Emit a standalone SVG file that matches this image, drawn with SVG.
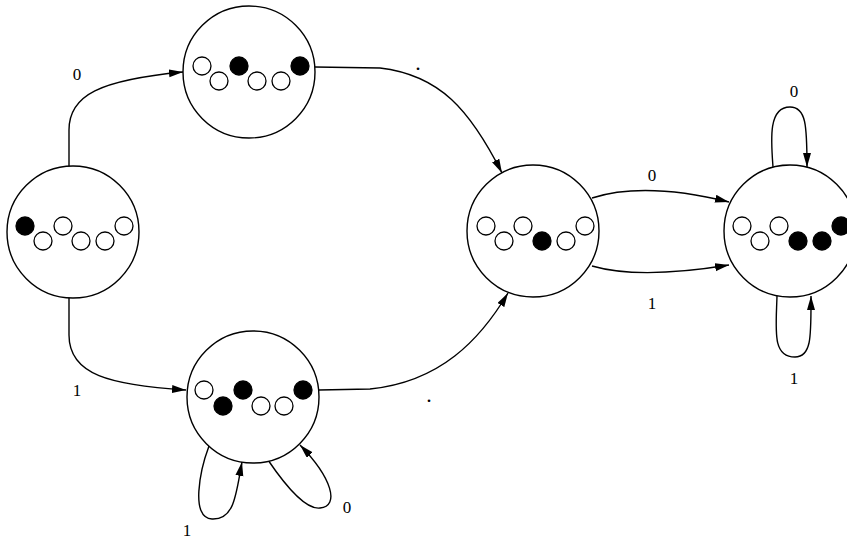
<svg xmlns="http://www.w3.org/2000/svg" width="847" height="539" viewBox="0 0 847 539">
<style>
.node{fill:#fff;stroke:#000;stroke-width:1.4}
.w{fill:#fff;stroke:#000;stroke-width:1.3}
.b{fill:#000;stroke:#000;stroke-width:1.3}
.e{fill:none;stroke:#000;stroke-width:1.4}
text{font-family:"Liberation Serif","Times New Roman",serif;font-size:17px;fill:#000;text-anchor:middle}
.dot{font-size:22px}
</style>
<defs>
<marker id="ah" markerUnits="userSpaceOnUse" markerWidth="15" markerHeight="9" refX="14" refY="4" orient="auto">
<path d="M0,0 L14,4 L0,8 z" fill="#000"/>
</marker>
</defs>
<g id="connectors">
<path class="e" d="M69,167 L69,130 C69,95 100,80 183,72" marker-end="url(#ah)"/>
<path class="e" d="M69,297 L69,335 C69,375 110,385 186,390" marker-end="url(#ah)"/>
<path class="e" d="M315,67 L380,68 C440,75 470,110 502,173" marker-end="url(#ah)"/>
<path class="e" d="M319,390 L370,389 C440,382 480,340 508,293" marker-end="url(#ah)"/>
<path class="e" d="M592,198 C630,186 680,190 729,202" marker-end="url(#ah)"/>
<path class="e" d="M592,266 C630,277 680,273 729,265" marker-end="url(#ah)"/>
<path class="e" d="M773,167 C771,140 768,107 790,107 C806,107 807,125 807,167" marker-end="url(#ah)"/>
<path class="e" d="M777,296 C776,330 772,357 795,357 C812,357 811,335 811,296" marker-end="url(#ah)"/>
<path class="e" d="M209,446 C200,470 190,518 212,519 C235,520 236,493 242,462" marker-end="url(#ah)"/>
<path class="e" d="M268,460 C285,485 305,510 320,508 C340,506 332,478 300,445" marker-end="url(#ah)"/>
<text x="77" y="80">0</text>
<text x="77" y="396">1</text>
<text class="dot" x="418" y="70">.</text>
<text class="dot" x="429" y="402">.</text>
<text x="652" y="181">0</text>
<text x="652" y="309">1</text>
<text x="794" y="97">0</text>
<text x="794" y="384">1</text>
<text x="187" y="536">1</text>
<text x="347" y="513">0</text>
</g>
<g id="n1">
<circle class="node" cx="73" cy="232" r="66"/>
<circle class="b" cx="25" cy="226" r="9"/>
<circle class="w" cx="43" cy="241" r="9"/>
<circle class="w" cx="63" cy="226" r="9"/>
<circle class="w" cx="81" cy="241" r="9"/>
<circle class="w" cx="105" cy="241" r="9"/>
<circle class="w" cx="124" cy="226" r="9"/>
</g>
<g id="n2">
<circle class="node" cx="249" cy="72" r="66"/>
<circle class="w" cx="202" cy="66" r="9"/>
<circle class="w" cx="219" cy="81" r="9"/>
<circle class="b" cx="239" cy="66" r="9"/>
<circle class="w" cx="257" cy="81" r="9"/>
<circle class="w" cx="281" cy="81" r="9"/>
<circle class="b" cx="300" cy="66" r="9"/>
</g>
<g id="n3">
<circle class="node" cx="253" cy="397" r="66"/>
<circle class="w" cx="204" cy="390" r="9"/>
<circle class="b" cx="223" cy="406" r="9"/>
<circle class="b" cx="243" cy="390" r="9"/>
<circle class="w" cx="261" cy="406" r="9"/>
<circle class="w" cx="284" cy="406" r="9"/>
<circle class="b" cx="303" cy="390" r="9"/>
</g>
<g id="n4">
<circle class="node" cx="533" cy="231" r="66"/>
<circle class="w" cx="486" cy="226" r="9"/>
<circle class="w" cx="504" cy="241" r="9"/>
<circle class="w" cx="523" cy="226" r="9"/>
<circle class="b" cx="542" cy="241" r="9"/>
<circle class="w" cx="566" cy="241" r="9"/>
<circle class="w" cx="585" cy="226" r="9"/>
</g>
<g id="n5">
<circle class="node" cx="790" cy="231" r="66"/>
<circle class="w" cx="742" cy="226" r="9"/>
<circle class="w" cx="760" cy="241" r="9"/>
<circle class="w" cx="779" cy="226" r="9"/>
<circle class="b" cx="798" cy="241" r="9"/>
<circle class="b" cx="822" cy="241" r="9"/>
<circle class="b" cx="841" cy="226" r="9"/>
</g>
</svg>
